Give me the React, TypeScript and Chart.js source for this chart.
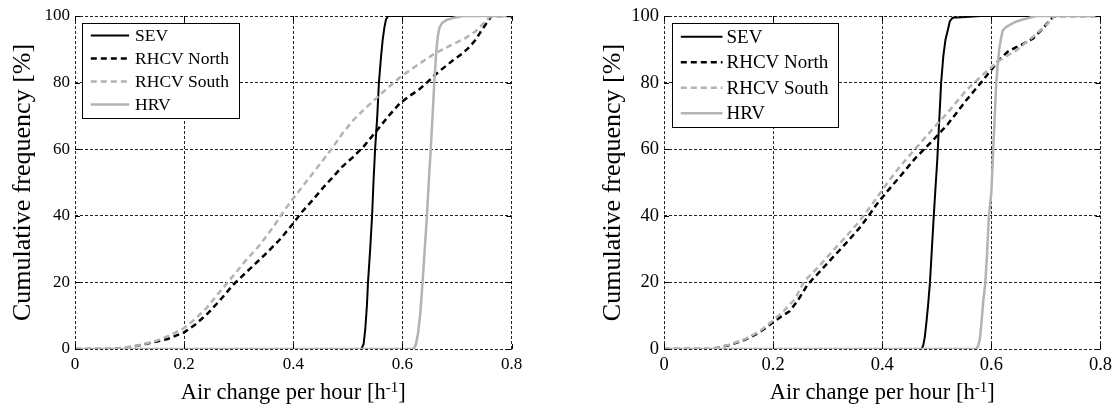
import React, { useEffect, useRef } from 'react';
import { Chart, registerables } from 'chart.js';

Chart.register(...registerables);

type Pt = [number, number];

// ---- text ----
const X_TICKS = ['0', '0.2', '0.4', '0.6', '0.8'];
const Y_TICKS = ['0', '20', '40', '60', '80', '100'];
const SERIES_NAMES = ['SEV', 'RHCV North', 'RHCV South', 'HRV'];
const X_TITLE_MAIN = 'Air change per hour [h';
const X_TITLE_SUP = '-1';
const X_TITLE_END = ']';
const Y_TITLE = 'Cumulative frequency [%]';

// ---- left panel data (air change per hour, cumulative %) ----
const LEFT_SEV: Pt[] = [
  [0, 0], [0.525, 0], [0.529, 1.5], [0.532, 6], [0.535, 13], [0.537, 20], [0.541, 30], [0.5445, 40],
  [0.547, 50], [0.55, 60], [0.554, 70], [0.557, 80], [0.561, 88], [0.564, 93], [0.567, 96.5],
  [0.57, 99], [0.574, 100], [0.8, 100],
];
const LEFT_NORTH: Pt[] = [
  [0, 0], [0.07, 0], [0.09, 0.3], [0.11, 0.8], [0.137, 1.8], [0.17, 3.0], [0.2, 5.0], [0.22, 7.3],
  [0.241, 10.3], [0.265, 14.5], [0.29, 19.3], [0.32, 24], [0.351, 28.8], [0.375, 32.8], [0.398, 37.3],
  [0.415, 41], [0.436, 44.8], [0.455, 48.5], [0.473, 51.7], [0.49, 54.8], [0.51, 57.7], [0.53, 61],
  [0.5525, 65.5], [0.575, 70], [0.595, 73.7], [0.613, 76], [0.629, 77.7], [0.645, 80], [0.659, 82.2],
  [0.676, 84.5], [0.693, 86.7], [0.71, 88.7], [0.723, 90.7], [0.735, 93], [0.745, 95.7], [0.755, 98],
  [0.763, 100], [0.8, 100],
];
const LEFT_SOUTH: Pt[] = [
  [0, 0], [0.07, 0], [0.09, 0.4], [0.12, 1.2], [0.15, 2.5], [0.175, 4.2], [0.2, 6.3], [0.22, 9],
  [0.241, 12.3], [0.262, 16.5], [0.284, 20.8], [0.31, 26], [0.339, 31.3], [0.365, 37], [0.383, 41.5],
  [0.398, 44.8], [0.418, 49], [0.436, 52.8], [0.455, 56.8], [0.473, 60.7], [0.49, 64.7], [0.51, 68.7],
  [0.53, 72], [0.555, 75.7], [0.575, 78.7], [0.595, 81.5], [0.625, 85], [0.659, 88.7], [0.69, 91.3],
  [0.717, 93.5], [0.735, 95.5], [0.75, 98], [0.76, 99.7], [0.765, 100], [0.8, 100],
];
const LEFT_HRV: Pt[] = [
  [0, 0], [0.621, 0], [0.625, 1.5], [0.629, 5], [0.633, 11], [0.637, 20], [0.641, 30], [0.645, 40],
  [0.649, 52], [0.652, 60], [0.655, 69], [0.6585, 80], [0.662, 89], [0.665, 94], [0.668, 96.5],
  [0.673, 97.9], [0.681, 98.8], [0.695, 99.5], [0.711, 100], [0.8, 100],
];

// ---- right panel data ----
const RIGHT_SEV: Pt[] = [
  [0, 0], [0.472, 0], [0.475, 1], [0.478, 3.5], [0.481, 8], [0.484, 13], [0.4875, 20], [0.491, 30],
  [0.4945, 40], [0.4975, 48], [0.501, 57], [0.504, 67], [0.508, 80], [0.512, 88], [0.516, 93],
  [0.5205, 96], [0.524, 98.5], [0.529, 99.5], [0.56, 99.8], [0.58, 100], [0.8, 100],
];
const RIGHT_NORTH: Pt[] = [
  [0, 0], [0.085, 0], [0.1, 0.4], [0.12, 1.2], [0.149, 2.8], [0.175, 5], [0.198, 7.8], [0.215, 9.8],
  [0.23, 11.3], [0.245, 14.5], [0.263, 19.3], [0.287, 23.5], [0.311, 27.8], [0.335, 32], [0.358, 36.3],
  [0.375, 40], [0.39, 43.5], [0.41, 47.5], [0.432, 51.7], [0.46, 57.2], [0.493, 62.7], [0.52, 67.5],
  [0.554, 74.7], [0.5845, 80.7], [0.615, 87], [0.63, 89.3], [0.6457, 90.7], [0.66, 91.8], [0.676, 93.2],
  [0.694, 96.2], [0.705, 98.3], [0.713, 99.7], [0.718, 100], [0.8, 100],
];
const RIGHT_SOUTH: Pt[] = [
  [0, 0], [0.085, 0], [0.1, 0.5], [0.12, 1.3], [0.149, 3], [0.175, 5.3], [0.198, 8.3], [0.22, 11.5],
  [0.24, 15], [0.257, 20.3], [0.285, 25], [0.311, 29.8], [0.335, 34], [0.358, 38.3], [0.385, 44.3],
  [0.41, 50], [0.432, 54.7], [0.46, 60], [0.493, 66.2], [0.52, 71], [0.554, 77.7], [0.585, 82.5],
  [0.615, 86.7], [0.6457, 89.7], [0.676, 93.7], [0.7, 97.2], [0.716, 100], [0.8, 100],
];
const RIGHT_HRV: Pt[] = [
  [0, 0], [0.573, 0], [0.576, 1], [0.579, 3], [0.582, 8], [0.585, 14], [0.589, 20], [0.592, 28],
  [0.5955, 40], [0.6, 47], [0.603, 58], [0.606, 69], [0.609, 80], [0.612, 86], [0.615, 90.7],
  [0.618, 93.5], [0.621, 95.7], [0.627, 96.7], [0.633, 97.3], [0.645, 98.3], [0.658, 99],
  [0.682, 100], [0.8, 100],
];

// ---- styles ----
const GRAY = '#b3b3b3';
const STYLES = [
  { color: '#000000', width: 2, dash: [] as number[] },
  { color: '#000000', width: 2.5, dash: [6, 4] },
  { color: GRAY, width: 2.5, dash: [6, 4] },
  { color: GRAY, width: 2.5, dash: [] as number[] },
];
const FONT = '"Liberation Serif", "Times New Roman", serif';

type PanelCfg = {
  w: number;
  padRight: number;
  top: number;
  bottom: number;
  yAxisW: number;
  tickSize: number;
  legendSize: number;
  legend: { dx: number; dy: number; w: number; h: number; row0: number; rowH: number; s0: number; s1: number; tx: number };
  yTitleX: number;
  yTitleSize: number;
  xTitleY: number;
  xTitleSize: number;
};

const decorPlugin = {
  id: 'matlabDecor',
  afterDraw(chart: any, _args: any, opts: any) {
    const cfg: PanelCfg = opts.cfg;
    const ctx: CanvasRenderingContext2D = chart.ctx;
    const a = chart.chartArea;
    const xs = chart.scales.x;
    const ys = chart.scales.y;
    ctx.save();
    // inward tick marks
    ctx.strokeStyle = '#000';
    ctx.lineWidth = 1;
    ctx.setLineDash([]);
    ctx.beginPath();
    xs.ticks.forEach((t: any) => {
      const px = Math.round(xs.getPixelForValue(t.value)) + 0.5;
      ctx.moveTo(px, a.bottom);
      ctx.lineTo(px, a.bottom - 5);
      ctx.moveTo(px, a.top);
      ctx.lineTo(px, a.top + 5);
    });
    ys.ticks.forEach((t: any) => {
      const py = Math.round(ys.getPixelForValue(t.value)) + 0.5;
      ctx.moveTo(a.left, py);
      ctx.lineTo(a.left + 5, py);
      ctx.moveTo(a.right, py);
      ctx.lineTo(a.right - 5, py);
    });
    ctx.stroke();

    // legend
    const L = cfg.legend;
    const bx = Math.round(a.left + L.dx) + 0.5;
    const by = Math.round(a.top + L.dy) + 0.5;
    ctx.fillStyle = '#fff';
    ctx.fillRect(bx, by, L.w, L.h);
    ctx.strokeStyle = '#000';
    ctx.lineWidth = 1;
    ctx.strokeRect(bx, by, L.w, L.h);
    ctx.font = `${cfg.legendSize}px ${FONT}`;
    ctx.textBaseline = 'middle';
    ctx.textAlign = 'left';
    SERIES_NAMES.forEach((name, i) => {
      const st = STYLES[i];
      const y = by + L.row0 + i * L.rowH;
      ctx.beginPath();
      ctx.strokeStyle = st.color;
      ctx.lineWidth = st.width;
      ctx.setLineDash(st.dash);
      ctx.moveTo(bx + L.s0, y);
      ctx.lineTo(bx + L.s1, y);
      ctx.stroke();
      ctx.setLineDash([]);
      ctx.fillStyle = '#000';
      ctx.fillText(name, bx + L.tx, y + 1);
    });

    // y title
    ctx.save();
    ctx.translate(cfg.yTitleX, (a.top + a.bottom) / 2);
    ctx.rotate(-Math.PI / 2);
    ctx.font = `${cfg.yTitleSize}px ${FONT}`;
    ctx.textAlign = 'center';
    ctx.textBaseline = 'middle';
    ctx.fillStyle = '#000';
    ctx.fillText(Y_TITLE, 0, 0);
    ctx.restore();

    // x title with superscript
    const big = `${cfg.xTitleSize}px ${FONT}`;
    const small = `${Math.round(cfg.xTitleSize * 0.68)}px ${FONT}`;
    ctx.font = big;
    const w1 = ctx.measureText(X_TITLE_MAIN).width;
    const w3 = ctx.measureText(X_TITLE_END).width;
    ctx.font = small;
    const w2 = ctx.measureText(X_TITLE_SUP).width;
    const total = w1 + w2 + w3;
    let x = (a.left + a.right) / 2 - total / 2;
    const base = cfg.xTitleY;
    ctx.textAlign = 'left';
    ctx.textBaseline = 'alphabetic';
    ctx.fillStyle = '#000';
    ctx.font = big;
    ctx.fillText(X_TITLE_MAIN, x, base);
    x += w1;
    ctx.font = small;
    ctx.fillText(X_TITLE_SUP, x, base - cfg.xTitleSize * 0.33);
    x += w2;
    ctx.font = big;
    ctx.fillText(X_TITLE_END, x, base);
    ctx.restore();
  },
};

function Panel({ series, cfg }: { series: Pt[][]; cfg: PanelCfg }) {
  const ref = useRef<HTMLCanvasElement>(null);
  useEffect(() => {
    const canvas = ref.current;
    if (!canvas) return;
    // draw order: last listed series on top (MATLAB style) -> reverse for Chart.js
    const datasets = series
      .map((pts, i) => ({
        label: SERIES_NAMES[i],
        data: pts.map(([x, y]) => ({ x, y })),
        borderColor: STYLES[i].color,
        borderWidth: STYLES[i].width,
        borderDash: STYLES[i].dash,
        pointRadius: 0,
        fill: false,
        tension: 0,
      }))
      .reverse();
    const tickFont = { family: FONT, size: cfg.tickSize };
    const chart = new Chart(canvas, {
      type: 'line',
      data: { datasets },
      options: {
        responsive: false,
        animation: false,
        devicePixelRatio: 1,
        parsing: false as any,
        layout: { padding: { left: 0, right: cfg.padRight, top: cfg.top, bottom: 0 } },
        plugins: {
          legend: { display: false },
          tooltip: { enabled: false },
          matlabDecor: { cfg },
        } as any,
        scales: {
          x: {
            type: 'linear',
            min: 0,
            max: 0.8,
            ticks: {
              stepSize: 0.2,
              autoSkip: false,
              maxRotation: 0,
              color: '#000',
              font: tickFont,
              padding: 5,
              callback: (_v: any, i: number) => X_TICKS[i],
            },
            grid: { color: '#222', lineWidth: 1, drawTicks: false },
            border: { display: false, dash: [3, 2] },
            afterFit: (s: any) => {
              s.height = 407 - cfg.bottom;
            },
          },
          y: {
            type: 'linear',
            min: 0,
            max: 100,
            ticks: {
              stepSize: 20,
              autoSkip: false,
              color: '#000',
              font: tickFont,
              padding: 5,
              callback: (_v: any, i: number) => Y_TICKS[i],
            },
            grid: { color: '#222', lineWidth: 1, drawTicks: false },
            border: { display: false, dash: [3, 2] },
            afterFit: (s: any) => {
              s.width = cfg.yAxisW;
            },
          },
        },
      },
      plugins: [decorPlugin],
    });
    return () => chart.destroy();
  }, []);
  return <canvas ref={ref} width={cfg.w} height={407} />;
}

const LEFT_CFG: PanelCfg = {
  w: 558,
  padRight: 46.5,
  top: 16,
  bottom: 349,
  yAxisW: 75,
  tickSize: 17,
  legendSize: 17.5,
  legend: { dx: 6.5, dy: 6.5, w: 157, h: 95, row0: 12, rowH: 23, s0: 8.3, s1: 46.6, tx: 52.6 },
  yTitleX: 23,
  yTitleSize: 26,
  xTitleY: 399,
  xTitleSize: 22.5,
};

const RIGHT_CFG: PanelCfg = {
  w: 559,
  padRight: 16,
  top: 16,
  bottom: 349,
  yAxisW: 106,
  tickSize: 18.5,
  legendSize: 19,
  legend: { dx: 7.5, dy: 6.5, w: 166, h: 104, row0: 13.3, rowH: 25.5, s0: 8.3, s1: 50, tx: 54 },
  yTitleX: 54.7,
  yTitleSize: 26,
  xTitleY: 399,
  xTitleSize: 22.5,
};

export default function App() {
  return (
    <div style={{ position: 'absolute', left: 0, top: 0, width: 1117, height: 407, background: '#fff' }}>
      <div style={{ position: 'absolute', left: 0, top: 0 }}>
        <Panel series={[LEFT_SEV, LEFT_NORTH, LEFT_SOUTH, LEFT_HRV]} cfg={LEFT_CFG} />
      </div>
      <div style={{ position: 'absolute', left: 558, top: 0 }}>
        <Panel series={[RIGHT_SEV, RIGHT_NORTH, RIGHT_SOUTH, RIGHT_HRV]} cfg={RIGHT_CFG} />
      </div>
    </div>
  );
}
